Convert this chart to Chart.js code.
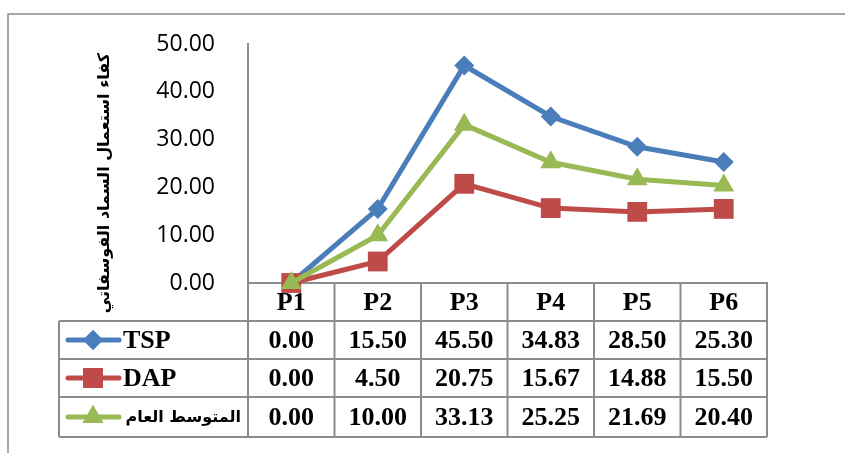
<!DOCTYPE html>
<html>
<head>
<meta charset="utf-8">
<script src="https://cdn.jsdelivr.net/npm/chart.js@4/dist/chart.umd.min.js"></script>
<style>
  html, body { margin: 0; padding: 0; background: #fff; }
  #wrap { width: 845px; height: 453px; }
</style>
</head>
<body>
<div id="wrap"><canvas id="grafP"></canvas></div>
<script>
// datos
var categorias = ['P1', 'P2', 'P3', 'P4', 'P5', 'P6'];
var tsp = [0.00, 15.50, 45.50, 34.83, 28.50, 25.30];
var dap = [0.00, 4.50, 20.75, 15.67, 14.88, 15.50];
var promedio = [0.00, 10.00, 33.13, 25.25, 21.69, 20.40];
var nombres = ['TSP', 'DAP', 'المتوسط العام'];
var tituloY = 'كفاء استعمال السماد الفوسفاتي';

var azul = '#4A7EBB', rojo = '#BE4B48', verde = '#98B954';
var gris = '#8C8C8C';
var fuenteTabla = 'bold 26px "Liberation Serif", "Times New Roman", serif';

// marco, titulo del eje y tabla de datos
var tablaPlugin = {
    id: 'tabla',
    beforeDraw: function (chart) {
        var c = chart.ctx;
        c.save();
        c.fillStyle = '#fff';
        c.fillRect(0, 0, chart.width, chart.height);
        c.strokeStyle = gris;
        c.lineWidth = 1.5;
        c.beginPath();
        c.moveTo(8, chart.height);
        c.lineTo(8, 14);
        c.lineTo(chart.width, 14);
        c.stroke();
        // titulo del eje y (girado)
        c.translate(105, 183);
        c.rotate(-Math.PI / 2);
        c.fillStyle = '#000';
        c.font = 'bold 16px "DejaVu Sans", serif';
        c.textAlign = 'center';
        c.textBaseline = 'middle';
        c.fillText(tituloY, 0, 0);
        c.restore();
    },
    beforeDatasetsDraw: function (chart) {
        var c = chart.ctx;
        var x = chart.scales.x;
        var area = chart.chartArea;
        var filaH = 38;
        var top = area.bottom;
        var filas = [top, top + filaH, top + 2 * filaH, top + 3 * filaH, top + 3 * filaH + 40];
        var izq = 59;
        var ancho = (area.right - area.left) / categorias.length;
        c.save();
        c.strokeStyle = gris;
        c.lineWidth = 2;
        c.beginPath();
        // lineas horizontales
        c.moveTo(area.left, filas[0]); c.lineTo(area.right, filas[0]);
        for (var i = 1; i < filas.length; i++) {
            c.moveTo(izq, filas[i]); c.lineTo(area.right, filas[i]);
        }
        // lineas verticales
        c.moveTo(izq, filas[1]); c.lineTo(izq, filas[4]);
        for (var j = 0; j <= categorias.length; j++) {
            var xx = area.left + j * ancho;
            c.moveTo(xx, filas[0]); c.lineTo(xx, filas[4]);
        }
        c.stroke();

        c.fillStyle = '#000';
        c.textAlign = 'center';
        c.textBaseline = 'middle';
        c.font = fuenteTabla;
        categorias.forEach(function (cat, k) {
            c.fillText(cat, x.getPixelForValue(k), (filas[0] + filas[1]) / 2 + 1);
        });
        var series = [tsp, dap, promedio];
        var colores = [azul, rojo, verde];
        var estilos = ['rectRot', 'rect', 'triangle'];
        var radios = [10, 14, 12];
        series.forEach(function (serie, s) {
            var yc = (filas[s + 1] + filas[s + 2]) / 2 + 1;
            serie.forEach(function (v, k) {
                c.fillText(v.toFixed(2), x.getPixelForValue(k), yc);
            });
            // clave de la leyenda
            c.strokeStyle = colores[s];
            c.lineWidth = 5;
            c.lineCap = 'round';
            c.beginPath();
            c.moveTo(68, yc - 1); c.lineTo(119, yc - 1);
            c.stroke();
            c.fillStyle = colores[s];
            Chart.helpers.drawPoint(c, {pointStyle: estilos[s], radius: radios[s], rotation: 0, borderWidth: 0}, 93, yc - 1);
            c.fill();
            c.fillStyle = '#000';
            if (s === 2) {
                c.font = 'bold 16px "DejaVu Sans", serif';
                c.textAlign = 'right';
                c.fillText(nombres[s], 241, yc);
            } else {
                c.textAlign = 'left';
                c.fillText(nombres[s], 123, yc);
            }
            c.textAlign = 'center';
            c.font = fuenteTabla;
        });
        c.restore();
    }
};

var ctxP = document.getElementById('grafP').getContext('2d');
var grafico = new Chart(ctxP, {
    type: 'line',
    data: {
        labels: categorias,
        datasets: [{
            label: nombres[0],
            data: tsp,
            borderColor: azul,
            backgroundColor: azul,
            borderWidth: 5,
            pointStyle: 'rectRot',
            pointRadius: 10,
            pointBorderWidth: 0,
            order: 3,
            clip: false
        }, {
            label: nombres[1],
            data: dap,
            borderColor: rojo,
            backgroundColor: rojo,
            borderWidth: 5,
            pointStyle: 'rect',
            pointRadius: 14,
            pointBorderWidth: 0,
            order: 2,
            clip: false
        }, {
            label: nombres[2],
            data: promedio,
            borderColor: verde,
            backgroundColor: verde,
            borderWidth: 5,
            pointStyle: 'triangle',
            pointRadius: 12,
            pointBorderWidth: 0,
            order: 1,
            clip: false
        }]
    },
    options: {
        responsive: true,
        maintainAspectRatio: false,
        animation: false,
        layout: { padding: { top: 44, right: 78, left: 0, bottom: 0 } },
        plugins: {
            legend: { display: false },
            tooltip: { enabled: false }
        },
        scales: {
            x: {
                offset: true,
                grid: { display: false },
                ticks: { display: false },
                border: { color: gris, width: 2 },
                afterFit: function (s) { s.height = 170; }
            },
            y: {
                min: 0,
                max: 50,
                grid: { display: false },
                border: { color: gris, width: 2 },
                ticks: {
                    stepSize: 10,
                    padding: 25,
                    color: '#000',
                    font: { family: '"Open Sans", sans-serif', size: 23 },
                    callback: function (v) { return v.toFixed(2); }
                },
                afterFit: function (s) { s.width = 248; }
            }
        }
    },
    plugins: [tablaPlugin]
});
</script>
</body>
</html>
